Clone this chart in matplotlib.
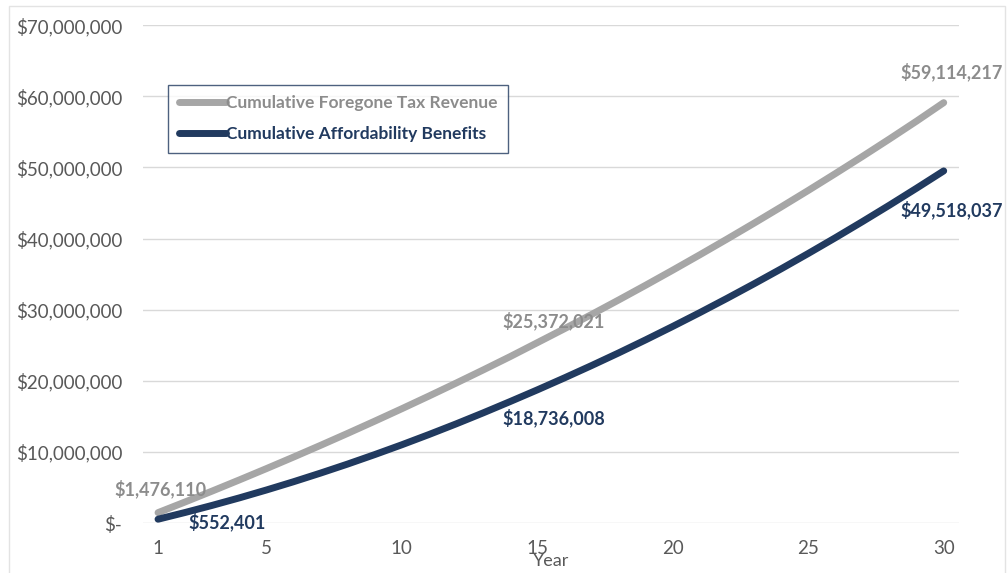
import matplotlib
matplotlib.use("Agg")
import matplotlib.pyplot as plt
from matplotlib.patches import Rectangle
from matplotlib.ticker import FuncFormatter

plt.rcParams['font.family'] = ['Lato', 'DejaVu Sans']

years = list(range(1, 31))

# cumulative values in dollars
foregone_tax = [1476110, 2980000, 4513000, 6075000, 7666000, 9288000, 10940000,
                12624000, 14340000, 16088000, 17869000, 19684000, 21534000,
                23419000, 25372021, 27330000, 29330000, 31370000, 33450000,
                35570000, 37730000, 39930000, 42170000, 44450000, 46770000,
                49140000, 51550000, 54010000, 56520000, 59114217]
affordability = [552401, 1500000, 2500000, 3550000, 4660000, 5820000, 7040000,
                 8310000, 9640000, 11020000, 12460000, 13950000, 15500000,
                 17100000, 18736008, 20420000, 22150000, 23930000, 25770000,
                 27660000, 29600000, 31600000, 33650000, 35750000, 37910000,
                 40120000, 42390000, 44710000, 47090000, 49518037]

gray = '#A6A6A6'
navy = '#213A5F'
text_gray = '#595959'
label_gray = '#8C8C8C'

fig = plt.figure(figsize=(10.08, 5.73), dpi=100)
ax = fig.add_axes([0.142, 0.087, 0.809, 0.869])

ax.plot(years, foregone_tax, color=gray, lw=5, solid_capstyle='round',
        label='Cumulative Foregone Tax Revenue', zorder=3)
ax.plot(years, affordability, color=navy, lw=5, solid_capstyle='round',
        label='Cumulative Affordability Benefits', zorder=4)

ax.set_xlim(0.45, 30.55)
ax.set_ylim(0, 70000000)
ax.set_xticks([1, 5, 10, 15, 20, 25, 30])
ax.set_yticks(range(0, 70000001, 10000000))


def money(v, pos):
    if v == 0:
        return '$-'
    return '${:,.0f}'.format(v)


ax.yaxis.set_major_formatter(FuncFormatter(money))
ax.tick_params(axis='both', length=0, labelsize=13.5, colors=text_gray)
ax.tick_params(axis='y', pad=15)
ax.tick_params(axis='x', pad=12)
ax.grid(axis='y', color='#D9D9D9', lw=1)
for s in ax.spines.values():
    s.set_visible(False)
ax.set_xlabel('Year', fontsize=13, color=text_gray, labelpad=-3)

# data labels
lbl = dict(fontsize=13, fontweight='bold', ha='center', va='center',
           textcoords='offset points', annotation_clip=False)
ax.annotate('${:,.0f}'.format(foregone_tax[0]), (years[0], foregone_tax[0]),
            xytext=(2, 17), color=label_gray, **lbl)
ax.annotate('${:,.0f}'.format(affordability[0]), (years[0], affordability[0]),
            xytext=(50, -2), color=navy, **lbl)
ax.annotate('${:,.0f}'.format(foregone_tax[14]), (years[14], foregone_tax[14]),
            xytext=(12, 16), color=label_gray, **lbl)
ax.annotate('${:,.0f}'.format(affordability[14]), (years[14], affordability[14]),
            xytext=(12, -20), color=navy, **lbl)
ax.annotate('${:,.0f}'.format(foregone_tax[29]), (years[29], foregone_tax[29]),
            xytext=(6, 22), color=label_gray, **lbl)
ax.annotate('${:,.0f}'.format(affordability[29]), (years[29], affordability[29]),
            xytext=(6, -28), color=navy, **lbl)

leg = ax.legend(loc='upper left', bbox_to_anchor=(0.031, 0.880), frameon=True,
                fancybox=False, edgecolor=navy, fontsize=12.5, handlelength=2.7,
                handletextpad=0.0, borderpad=0.6, labelspacing=0.85,
                borderaxespad=0)
leg.get_frame().set_linewidth(1.0)
for t, c in zip(leg.get_texts(), [label_gray, navy]):
    t.set_color(c)
    t.set_fontweight('bold')

# outer border
fig.patches.append(Rectangle((0.009, -0.01), 0.988, 1.0, transform=fig.transFigure,
                             fill=False, edgecolor='#E3E3E3', lw=1))

fig.savefig('out.png', dpi=100)
